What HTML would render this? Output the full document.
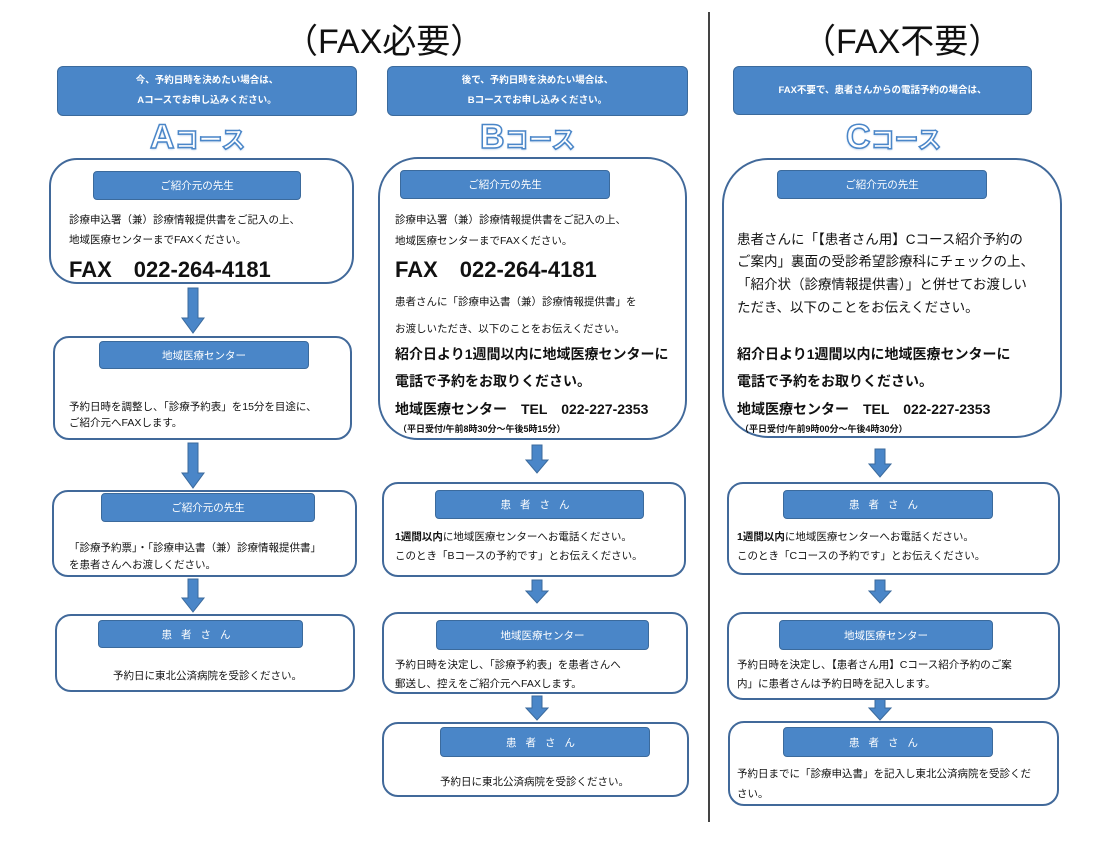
<!DOCTYPE html>
<html><head><meta charset="utf-8">
<style>
*{margin:0;padding:0;box-sizing:border-box}
body{width:1120px;height:848px;background:#fff;position:relative;overflow:hidden;font-family:"Liberation Sans","Noto Sans CJK JP",sans-serif;color:#111}
.a{position:absolute}
.box{position:absolute;background:#fff;border:2.5px solid #41699a;border-radius:16px}
.blue{position:absolute;background:#4a86c8;border:1.5px solid #3b6a9c;border-radius:6px;color:#fff;font-size:9.5px;font-weight:bold;display:flex;align-items:center;justify-content:center;text-align:center;line-height:20px}
.lab{position:absolute;background:#4a86c8;border:1.5px solid #3b6a9c;border-radius:4px;color:#fff;font-size:10.5px;display:flex;align-items:center;justify-content:center}
.t{position:absolute;font-size:10.5px;white-space:nowrap;line-height:14px}
.h{position:absolute;font-size:34px;white-space:nowrap}
.course{position:absolute;font-weight:bold;color:#fff;-webkit-text-stroke:1.5px #4a86c8;white-space:nowrap;text-shadow:0 1px 2px #9bbbe0}
.course b{font-size:34px}
.course span{font-size:24px}
.fax{position:absolute;font-weight:bold;font-size:22px;white-space:nowrap}
.bold{position:absolute;font-weight:bold;font-size:14px;white-space:nowrap}
.sm{position:absolute;font-weight:bold;font-size:9px;white-space:nowrap}
</style></head><body>
<div class="h" style="left:284px;top:14px">（FAX必要）</div>
<div class="h" style="left:802px;top:14px">（FAX不要）</div>
<div class="a" style="left:708px;top:12px;width:1.5px;height:810px;background:#444"></div>

<svg class="a" style="left:0;top:0" width="1120" height="848">
<g fill="#4a86c8" stroke="#3b6a9c" stroke-width="1">
<path d="M188,288 H198 V318 H204 L193,333 L182,318 H188 Z"/>
<path d="M188,443 H198 V473 H204 L193,488 L182,473 H188 Z"/>
<path d="M188,579 H198 V598 H204 L193,612 L182,598 H188 Z"/>
<path d="M532,445 H542 V460 H548 L537,473 L526,460 H532 Z"/>
<path d="M532,580 H542 V591 H548 L537,603 L526,591 H532 Z"/>
<path d="M532,696 H542 V708 H548 L537,720 L526,708 H532 Z"/>
<path d="M875,449 H885 V464 H891 L880,477 L869,464 H875 Z"/>
<path d="M875,580 H885 V591 H891 L880,603 L869,591 H875 Z"/>
<path d="M875,698 H885 V708 H891 L880,720 L869,708 H875 Z"/>
</g></svg>

<!-- Column A -->
<div class="blue" style="left:57px;top:66px;width:300px;height:50px">今、予約日時を決めたい場合は、<br>Aコースでお申し込みください。</div>
<div class="course" style="left:150px;top:118px"><b>A</b><span>コース</span></div>
<div class="box" style="left:49px;top:158px;width:305px;height:126px;border-radius:28px"></div>
<div class="lab" style="left:93px;top:171px;width:208px;height:29px">ご紹介元の先生</div>
<div class="t" style="left:69px;top:213px">診療申込署（兼）診療情報提供書をご記入の上、</div>
<div class="t" style="left:69px;top:233px">地域医療センターまでFAXください。</div>
<div class="fax" style="left:69px;top:252px">FAX　022-264-4181</div>

<div class="box" style="left:53px;top:336px;width:299px;height:104px"></div>
<div class="lab" style="left:99px;top:341px;width:210px;height:28px">地域医療センター</div>
<div class="t" style="left:69px;top:400px">予約日時を調整し、「診療予約表」を15分を目途に、</div>
<div class="t" style="left:69px;top:416px">ご紹介元へFAXします。</div>

<div class="box" style="left:52px;top:490px;width:305px;height:87px"></div>
<div class="lab" style="left:101px;top:493px;width:214px;height:29px">ご紹介元の先生</div>
<div class="t" style="left:69px;top:541px">「診療予約票」・「診療申込書（兼）診療情報提供書」</div>
<div class="t" style="left:69px;top:558px">を患者さんへお渡しください。</div>

<div class="box" style="left:55px;top:614px;width:300px;height:78px"></div>
<div class="lab" style="left:98px;top:620px;width:205px;height:28px;letter-spacing:9px">患者さん</div>
<div class="t" style="left:113px;top:669px">予約日に東北公済病院を受診ください。</div>

<!-- Column B -->
<div class="blue" style="left:387px;top:66px;width:301px;height:50px">後で、予約日時を決めたい場合は、<br>Bコースでお申し込みください。</div>
<div class="course" style="left:480px;top:118px"><b>B</b><span>コース</span></div>
<div class="box" style="left:378px;top:157px;width:309px;height:283px;border-radius:40px"></div>
<div class="lab" style="left:400px;top:170px;width:210px;height:29px">ご紹介元の先生</div>
<div class="t" style="left:395px;top:213px">診療申込署（兼）診療情報提供書をご記入の上、</div>
<div class="t" style="left:395px;top:234px">地域医療センターまでFAXください。</div>
<div class="fax" style="left:395px;top:252px">FAX　022-264-4181</div>
<div class="t" style="left:395px;top:295px">患者さんに「診療申込書（兼）診療情報提供書」を</div>
<div class="t" style="left:395px;top:322px">お渡しいただき、以下のことをお伝えください。</div>
<div class="bold" style="left:395px;top:344px">紹介日より1週間以内に地域医療センターに</div>
<div class="bold" style="left:395px;top:371px">電話で予約をお取りください。</div>
<div class="bold" style="left:395px;top:399px">地域医療センター　TEL　022-227-2353</div>
<div class="sm" style="left:398px;top:422px">（平日受付/午前8時30分～午後5時15分）</div>

<div class="box" style="left:382px;top:482px;width:304px;height:95px"></div>
<div class="lab" style="left:435px;top:490px;width:209px;height:29px;letter-spacing:9px">患者さん</div>
<div class="t" style="left:395px;top:530px"><b>1週間以内</b>に地域医療センターへお電話ください。</div>
<div class="t" style="left:395px;top:549px">このとき「Bコースの予約です」とお伝えください。</div>

<div class="box" style="left:382px;top:612px;width:306px;height:82px"></div>
<div class="lab" style="left:436px;top:620px;width:213px;height:30px">地域医療センター</div>
<div class="t" style="left:395px;top:658px">予約日時を決定し、「診療予約表」を患者さんへ</div>
<div class="t" style="left:395px;top:677px">郵送し、控えをご紹介元へFAXします。</div>

<div class="box" style="left:382px;top:722px;width:307px;height:75px"></div>
<div class="lab" style="left:440px;top:727px;width:210px;height:30px;letter-spacing:9px">患者さん</div>
<div class="t" style="left:440px;top:775px">予約日に東北公済病院を受診ください。</div>

<!-- Column C -->
<div class="blue" style="left:733px;top:66px;width:299px;height:49px">FAX不要で、患者さんからの電話予約の場合は、</div>
<div class="course" style="left:846px;top:118px"><b>C</b><span>コース</span></div>
<div class="box" style="left:722px;top:158px;width:340px;height:280px;border-radius:46px"></div>
<div class="lab" style="left:777px;top:170px;width:210px;height:29px">ご紹介元の先生</div>
<div class="t" style="left:737px;top:231px;font-size:13.5px;line-height:18px">患者さんに「【患者さん用】Cコース紹介予約の</div>
<div class="t" style="left:737px;top:253px;font-size:13.5px;line-height:18px">ご案内」裏面の受診希望診療科にチェックの上、</div>
<div class="t" style="left:737px;top:276px;font-size:13.5px;line-height:18px">「紹介状（診療情報提供書）」と併せてお渡しい</div>
<div class="t" style="left:737px;top:299px;font-size:13.5px;line-height:18px">ただき、以下のことをお伝えください。</div>
<div class="bold" style="left:737px;top:344px">紹介日より1週間以内に地域医療センターに</div>
<div class="bold" style="left:737px;top:371px">電話で予約をお取りください。</div>
<div class="bold" style="left:737px;top:399px">地域医療センター　TEL　022-227-2353</div>
<div class="sm" style="left:740px;top:422px">（平日受付/午前9時00分～午後4時30分）</div>

<div class="box" style="left:727px;top:482px;width:333px;height:93px"></div>
<div class="lab" style="left:783px;top:490px;width:210px;height:29px;letter-spacing:9px">患者さん</div>
<div class="t" style="left:737px;top:530px"><b>1週間以内</b>に地域医療センターへお電話ください。</div>
<div class="t" style="left:737px;top:549px">このとき「Cコースの予約です」とお伝えください。</div>

<div class="box" style="left:727px;top:612px;width:333px;height:88px"></div>
<div class="lab" style="left:779px;top:620px;width:214px;height:30px">地域医療センター</div>
<div class="t" style="left:737px;top:658px">予約日時を決定し、【患者さん用】Cコース紹介予約のご案</div>
<div class="t" style="left:737px;top:677px">内」に患者さんは予約日時を記入します。</div>

<div class="box" style="left:728px;top:721px;width:331px;height:85px"></div>
<div class="lab" style="left:783px;top:727px;width:210px;height:30px;letter-spacing:9px">患者さん</div>
<div class="t" style="left:737px;top:767px">予約日までに「診療申込書」を記入し東北公済病院を受診くだ</div>
<div class="t" style="left:737px;top:787px">さい。</div>
</body></html>
